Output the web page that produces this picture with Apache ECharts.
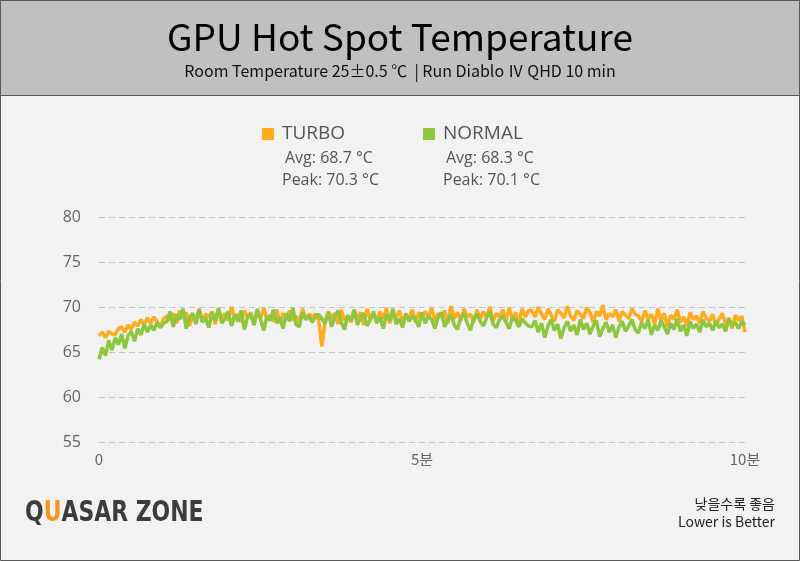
<!doctype html>
<html>
<head>
<meta charset="utf-8">
<title>GPU Hot Spot Temperature</title>
<style>
  html, body { margin: 0; padding: 0; background: #f2f2f2; }
  #main { width: 800px; height: 561px; }
</style>
</head>
<body>
<div id="main"></div>
<script src="https://cdn.jsdelivr.net/npm/echarts@6/dist/echarts.min.js"></script>
<script>
// sample every 3 seconds, 0..600 s
var step = 3;

var turbo = [
  66.8, 67.2, 66.6, 67.3, 67.0, 66.9, 67.6, 67.8, 67.2, 68.0, 67.5, 68.3, 67.9, 68.6, 68.0, 68.8, 68.2, 68.9, 68.4, 67.8, 68.7,
  69.0, 68.5, 69.3, 68.2, 69.6, 68.8, 69.4, 67.9, 69.1, 68.6, 69.8, 68.4, 69.2, 68.9, 69.5, 68.1, 69.7, 68.7, 69.3, 68.5, 70.0, 68.8, 69.2, 68.3, 69.6, 68.9, 69.4, 68.0, 69.5, 68.7, 69.9, 68.6, 69.1, 68.4, 69.7, 68.2, 69.3, 68.8, 69.6, 68.5, 69.0, 68.3, 69.8, 68.6, 69.2, 68.9,
  69.2, 68.6, 65.6, 68.4, 69.5, 68.8, 69.3, 68.1, 69.7, 68.5, 69.0, 68.3, 69.6, 68.9, 69.4, 68.0, 69.8, 68.6, 69.2, 68.4, 69.5, 68.7, 69.9, 68.2, 69.3, 68.8, 69.6, 68.4, 69.1, 68.7, 69.7, 68.3, 69.4, 68.9,
  69.5, 68.8, 69.9, 68.4, 69.3, 68.9, 69.6, 68.2, 70.1, 68.7, 69.4, 68.5, 69.8, 68.9, 69.2, 68.3, 69.7, 68.6, 69.5, 68.8, 70.0, 68.4, 69.3, 68.9, 69.7, 68.5, 69.9, 68.7, 69.4, 68.2, 69.8, 68.9, 69.6,
  69.6, 68.9, 70.0, 69.2, 68.6, 69.8, 69.1, 68.4, 69.7, 69.3, 68.8, 70.1, 69.0, 68.5, 69.6, 69.2, 68.7, 69.9, 69.4, 68.3, 69.5, 69.0, 70.2, 68.6, 69.3, 68.9, 69.7, 68.4, 69.5, 69.1, 68.7, 69.8, 69.2,
  69.0, 68.4, 69.6, 68.7, 69.2, 68.1, 69.8, 68.5, 69.3, 67.8, 69.1, 68.6, 69.7, 68.3, 68.9, 67.9, 69.4, 68.6, 69.0, 68.2, 69.5, 68.8, 68.4, 69.2, 67.9, 68.7, 69.3, 68.1, 68.8, 67.6, 69.1, 68.5, 69.0, 67.2
];

var normal = [
  64.2, 65.5, 64.6, 66.3, 65.2, 66.6, 65.8, 67.0, 65.4, 66.8, 67.3, 66.2, 67.6, 66.9, 68.1, 67.2, 68.0, 67.4, 68.3, 67.7, 68.2,
  68.4, 69.5, 67.8, 69.2, 68.6, 69.8, 67.6, 68.9, 69.3, 68.1, 69.7, 68.3, 68.8, 67.7, 69.4, 68.5, 69.9, 68.2, 68.7, 69.5, 67.9, 69.1, 68.4, 69.6, 67.5, 68.9, 69.2, 68.0, 69.8, 68.6, 67.4, 69.0, 68.5, 69.7, 68.2, 68.8, 67.6, 69.3, 68.4, 69.9, 68.1, 67.8, 69.4, 68.6, 69.0, 68.3,
  68.9, 69.2, 68.7, 68.2, 69.4, 67.8, 68.9, 69.6, 68.3, 67.5, 69.1, 68.5, 69.7, 68.0, 68.8, 69.3, 67.9, 68.6, 69.5, 68.2, 68.9, 67.6, 69.2, 68.5, 69.8, 68.1, 68.7, 67.7, 69.3, 68.4, 69.0, 68.6, 67.8, 69.4,
  68.2, 69.0, 68.6, 67.6, 68.9, 69.4, 67.8, 68.5, 69.1, 68.0, 67.5, 68.8, 69.3, 68.2, 67.4, 68.7, 69.2, 68.4, 67.9, 68.8, 69.5, 68.1, 67.7, 68.6, 69.0, 68.3, 67.6, 68.9, 68.5, 67.8, 68.7, 68.2, 67.9,
  67.8, 68.5, 67.2, 68.2, 66.6, 67.9, 68.6, 67.4, 68.1, 66.5, 67.7, 68.4, 67.3, 68.0, 66.9, 68.6, 67.5, 68.2, 67.0, 67.9, 68.5, 66.7, 67.6, 68.3, 67.2, 68.0, 66.6, 67.8, 68.4, 67.3, 67.9, 68.6, 67.5,
  67.1, 68.3, 67.6, 68.6, 66.9, 68.0, 67.4, 68.5, 67.8, 67.0, 68.2, 67.5, 68.7, 67.3, 68.0, 66.8, 68.4, 67.6, 68.1, 67.2, 68.6, 67.8, 68.2, 67.4, 68.5, 67.7, 68.1, 67.3, 68.7, 67.9, 68.3, 67.6, 68.4, 68.0
];

var seriesNames = ['TURBO', 'NORMAL'];
var seriesColors = ['#fdab1f', '#8dc63f'];
var avgs = ['68.7', '68.3'];
var peaks = ['70.3', '70.1'];
var xTickLabels = { 0: '0', 300: '5분', 600: '10분' };

function pairs(arr) {
  return arr.map(function (v, i) { return [i * step, v]; });
}

var chart = echarts.init(document.getElementById('main'));

var legendX = [262, 423];
var logoFont = 'bold 29px "DejaVu Sans Condensed", "DejaVu Sans", sans-serif';
var graphics = [
  { type: 'rect', shape: { x: 0.5, y: 0.5, width: 799, height: 560 },
    style: { fill: '#f2f2f2', stroke: '#5a5a5a', lineWidth: 1 }, z: -10 },
  { type: 'rect', shape: { x: 0.5, y: 0.5, width: 799, height: 95 },
    style: { fill: '#c0c0c0', stroke: '#5a5a5a', lineWidth: 1 }, z: -9 },
  { type: 'text', x: 400, y: 37,
    style: { text: 'GPU Hot Spot Temperature', font: '37px "Noto Sans CJK KR"', fill: '#000',
             align: 'center', verticalAlign: 'middle' } },
  { type: 'text', x: 400, y: 71,
    style: { text: 'Room Temperature 25±0.5 ℃  | Run Diablo Ⅳ QHD 10 min', font: '16px "Noto Sans CJK KR"',
             fill: '#111', align: 'center', verticalAlign: 'middle' } },
  { type: 'text', x: 25, y: 513, scaleX: 0.84,
    style: {
      text: '{a|Q}{b|U}{a|ASAR ZONE}',
      verticalAlign: 'middle',
      rich: {
        a: { font: logoFont, fill: '#3c3c3c' },
        b: { font: logoFont, fill: '#f7941d' }
      }
    } },
  { type: 'text', x: 775, y: 504,
    style: { text: '낮을수록 좋음', font: '14px "Noto Sans CJK KR"', fill: '#222', align: 'right', verticalAlign: 'middle' } },
  { type: 'text', x: 775, y: 522,
    style: { text: 'Lower is Better', font: '14px "Noto Sans CJK KR"', fill: '#222', align: 'right', verticalAlign: 'middle' } }
];

seriesNames.forEach(function (name, i) {
  var x = legendX[i];
  graphics.push(
    { type: 'rect', shape: { x: x, y: 128, width: 12, height: 12 }, style: { fill: seriesColors[i] } },
    { type: 'text', x: x + 20, y: 134,
      style: { text: name, font: '19px "Open Sans"', fill: '#555', verticalAlign: 'middle' } },
    { type: 'text', x: x + 23, y: 158,
      style: { text: 'Avg: ' + avgs[i] + ' °C', font: '16px "Open Sans"', fill: '#555', verticalAlign: 'middle' } },
    { type: 'text', x: x + 20, y: 180,
      style: { text: 'Peak: ' + peaks[i] + ' °C', font: '16px "Open Sans"', fill: '#555', verticalAlign: 'middle' } }
  );
});

chart.setOption({
  backgroundColor: '#f2f2f2',
  animation: false,
  grid: { left: 99, right: 55, top: 217, bottom: 119 },
  xAxis: {
    type: 'value', min: 0, max: 600, interval: 300,
    axisLine: { show: false }, axisTick: { show: false }, splitLine: { show: false },
    axisLabel: {
      color: '#666', fontSize: 15, fontFamily: '"Noto Sans CJK KR"', margin: 10,
      formatter: function (v) { return xTickLabels[v]; }
    }
  },
  yAxis: {
    type: 'value', min: 55, max: 80, interval: 5,
    axisLine: { show: false }, axisTick: { show: false },
    axisLabel: { color: '#666', fontSize: 16, fontFamily: '"Open Sans"', margin: 18 },
    splitLine: { lineStyle: { color: '#c4c4c4', type: [6, 4], width: 1 } }
  },
  series: seriesNames.map(function (name, i) {
    return {
      name: name, type: 'line', showSymbol: false,
      data: pairs(i === 0 ? turbo : normal),
      lineStyle: { color: seriesColors[i], width: 3.5 },
      z: 2 + i
    };
  }),
  graphic: graphics
});
</script>
</body>
</html>
